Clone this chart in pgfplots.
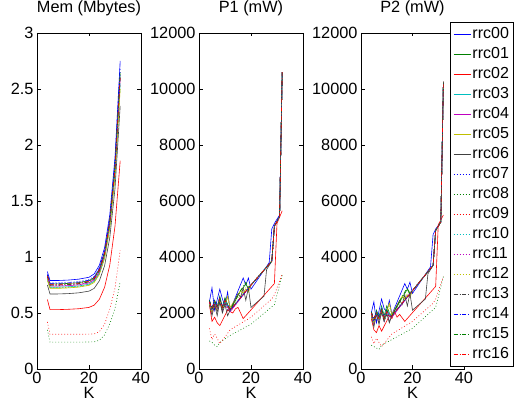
\documentclass[border=0pt]{standalone}
\usepackage{pgfplots}
\pgfplotsset{compat=1.18}
\usepackage{fontspec}
\setmainfont{Liberation Sans}

\definecolor{mb}{RGB}{0,0,255}
\definecolor{mg}{RGB}{0,128,0}
\definecolor{mr}{RGB}{255,0,0}
\definecolor{mc}{RGB}{0,191,191}
\definecolor{mm}{RGB}{191,0,191}
\definecolor{my}{RGB}{191,191,0}
\definecolor{mk}{RGB}{64,64,64}

\tikzset{
  dots/.style={dash pattern=on 0.8pt off 2.2pt},
  dashdot/.style={dash pattern=on 4pt off 2pt on 0.8pt off 2pt},
}

\pgfplotscreateplotcyclelist{rrc}{
  {mb,solid},{mg,solid},{mr,solid},{mc,solid},{mm,solid},{my,solid},{mk,solid},
  {mb,dots},{mg,dots},{mr,dots},{mc,dots},{mm,dots},{my,dots},
  {mk,dashdot},{mb,dashdot},{mg,dashdot},{mr,dashdot}}

\pgfplotsset{
  panel/.style={
    scale only axis, width=104pt, height=336pt,
    anchor=south west,
    xmin=0, xmax=40, xtick={0,20,40},
    tick pos=both, tick align=inside, major tick length=3.5pt,
    axis line style={line width=0.8pt}, every tick/.style={line width=0.8pt, black},
    cycle list name=rrc,
    every axis plot/.append style={line width=0.6pt, no markers},
    font=\fontsize{16.3}{18}\selectfont,
    /pgf/number format/assume math mode=true,
    /pgf/number format/1000 sep={},
    scaled y ticks=false,
    xlabel={K},
    xlabel style={at={(0.5,0)}, anchor=base, yshift=-30pt},
    title style={at={(0.5,1)}, anchor=base, yshift=14.5pt},
  },
}

\begin{document}
\begin{tikzpicture}
\path[use as bounding box] (0,0) rectangle (523pt,404pt);

% ---- memory ----
\begin{axis}[panel, at={(37pt,35pt)}, title={Mem (Mbytes)},
  ymin=0, ymax=3, ytick={0,0.5,1,1.5,2,2.5,3}]
\addplot coordinates {(4,0.87)(5,0.79)(8,0.79)(12,0.794)(16,0.802)(20,0.819)(22,0.849)(24,0.927)(26,1.084)(28,1.378)(30,1.888)(32,2.75)};
\addplot coordinates {(4,0.84)(5,0.76)(8,0.76)(12,0.764)(16,0.771)(20,0.788)(22,0.817)(24,0.892)(26,1.044)(28,1.327)(30,1.818)(32,2.65)};
\addplot coordinates {(4,0.62)(5,0.53)(8,0.53)(12,0.533)(16,0.538)(20,0.55)(22,0.57)(24,0.623)(26,0.73)(28,0.929)(30,1.275)(32,1.86)};
\addplot coordinates {(4,0.80)(5,0.73)(8,0.73)(12,0.734)(16,0.741)(20,0.757)(22,0.785)(24,0.857)(26,1.003)(28,1.276)(30,1.749)(32,2.55)};
\addplot coordinates {(4,0.82)(5,0.74)(8,0.74)(12,0.744)(16,0.751)(20,0.768)(22,0.796)(24,0.87)(26,1.019)(28,1.298)(30,1.782)(32,2.60)};
\addplot coordinates {(4,0.79)(5,0.72)(8,0.72)(12,0.724)(16,0.731)(20,0.747)(22,0.773)(24,0.845)(26,0.987)(28,1.254)(30,1.717)(32,2.50)};
\addplot coordinates {(4,0.75)(5,0.67)(8,0.67)(12,0.673)(16,0.68)(20,0.695)(22,0.72)(24,0.788)(26,0.922)(28,1.174)(30,1.611)(32,2.35)};
\addplot coordinates {(4,0.85)(5,0.77)(8,0.77)(12,0.774)(16,0.782)(20,0.799)(22,0.828)(24,0.905)(26,1.06)(28,1.349)(30,1.851)(32,2.70)};
\addplot coordinates {(4,0.35)(5,0.24)(8,0.24)(12,0.24)(16,0.24)(20,0.241)(22,0.243)(24,0.256)(26,0.305)(28,0.402)(30,0.537)(32,0.78)};
\addplot coordinates {(4,0.42)(5,0.31)(8,0.31)(12,0.31)(16,0.31)(20,0.311)(22,0.314)(24,0.333)(26,0.40)(28,0.535)(30,0.723)(32,1.06)};
\addplot coordinates {(4,0.80)(5,0.728)(8,0.728)(12,0.732)(16,0.739)(20,0.755)(22,0.783)(24,0.856)(26,1.001)(28,1.275)(30,1.748)(32,2.55)};
\addplot coordinates {(4,0.82)(5,0.745)(8,0.745)(12,0.749)(16,0.756)(20,0.773)(22,0.801)(24,0.875)(26,1.023)(28,1.302)(30,1.784)(32,2.60)};
\addplot coordinates {(4,0.80)(5,0.725)(8,0.725)(12,0.729)(16,0.736)(20,0.752)(22,0.779)(24,0.851)(26,0.994)(28,1.264)(30,1.73)(32,2.52)};
\addplot coordinates {(4,0.83)(5,0.75)(8,0.75)(12,0.754)(16,0.761)(20,0.778)(22,0.806)(24,0.88)(26,1.028)(28,1.305)(30,1.786)(32,2.60)};
\addplot coordinates {(4,0.84)(5,0.765)(8,0.765)(12,0.769)(16,0.776)(20,0.793)(22,0.822)(24,0.898)(26,1.049)(28,1.334)(30,1.826)(32,2.66)};
\addplot coordinates {(4,0.83)(5,0.75)(8,0.75)(12,0.754)(16,0.761)(20,0.778)(22,0.807)(24,0.882)(26,1.034)(28,1.317)(30,1.808)(32,2.64)};
\addplot coordinates {(4,0.83)(5,0.755)(8,0.755)(12,0.759)(16,0.766)(20,0.783)(22,0.81)(24,0.884)(26,1.032)(28,1.309)(30,1.788)(32,2.60)};
\end{axis}

% ---- P1 ----
\begin{axis}[panel, at={(199pt,35pt)}, title={P1 (mW)},
  ymin=0, ymax=12000, ytick={0,2000,4000,6000,8000,10000,12000}]
\addplot coordinates {(4,2400)(5,2900)(6,2100)(8,2850)(9,2500)(10,2250)(11,2750)(12,2100)(17,3250)(18,3000)(19,3250)(20,2850)(27,3800)(28,5000)(29,5200)(31,5500)(32,10600)};
\addplot coordinates {(4,2450)(5,2100)(6,2450)(7,2200)(8,2600)(9,2200)(10,2550)(11,2300)(12,2100)(16,2800)(17,2900)(18,3050)(19,2850)(20,3000)(28,3850)(29,5100)(31,5450)(32,10600)};
\addplot coordinates {(4,2300)(5,1700)(6,1850)(7,1650)(8,1550)(11,2100)(12,2050)(13,2000)(14,2150)(15,2200)(17,1800)(29,3050)(30,5200)(32,5650)};
\addplot coordinates {(4,2350)(5,2050)(6,2400)(7,2150)(8,2500)(9,2150)(10,2450)(11,2250)(12,2100)(20,3000)(28,3850)(29,5100)(31,5450)(32,10600)};
\addplot coordinates {(4,2400)(5,2000)(6,2350)(7,2100)(8,2450)(9,2100)(10,2400)(11,2200)(12,2050)(20,3000)(28,3850)(29,5100)(31,5450)(32,10600)};
\addplot coordinates {(4,2300)(5,2000)(6,2250)(7,2100)(8,2400)(9,2150)(10,2300)(11,2600)(12,2200)(16,2800)(17,2700)(18,2850)(19,2750)(20,3000)(28,3850)(29,5100)(31,5450)(32,10600)};
\addplot coordinates {(4,2300)(5,1900)(6,2300)(7,1900)(8,2400)(9,2000)(10,2300)(11,1900)(12,2100)(15,2700)(16,2550)(17,2900)(18,2450)(19,2900)(20,2200)(25,2600)(26,3550)(28,3850)(29,5100)(31,5450)(32,10600)};
\addplot coordinates {(4,2350)(5,2100)(6,2400)(7,2150)(8,2500)(9,2200)(10,2450)(11,2250)(12,2100)(20,3000)(28,3850)(29,5100)(31,5450)(32,10600)};
\addplot coordinates {(4,1000)(5,950)(6,850)(7,800)(8,950)(12,1200)(20,1600)(29,2300)(32,3350)};
\addplot coordinates {(4,1450)(5,1050)(6,1250)(7,1100)(8,900)(12,1400)(20,1850)(28,2500)(29,2650)(32,3400)};
\addplot coordinates {(4,2400)(5,2050)(6,2350)(7,2150)(8,2450)(9,2150)(10,2400)(11,2200)(12,2100)(20,3000)(28,3850)(29,5100)(31,5450)(32,10600)};
\addplot coordinates {(4,2350)(5,2000)(6,2300)(7,2100)(8,2400)(9,2100)(10,2350)(11,2150)(12,2050)(20,3000)(28,3850)(29,5100)(31,5450)(32,10600)};
\addplot coordinates {(4,2300)(5,2050)(6,2300)(7,2100)(8,2450)(9,2150)(10,2350)(11,2500)(12,2150)(17,2750)(18,2900)(20,3000)(28,3850)(29,5100)(31,5450)(32,10600)};
\addplot coordinates {(4,2400)(5,2150)(6,2300)(7,2050)(8,2400)(9,2100)(10,2350)(11,2100)(12,2100)(20,3000)(28,3850)(29,5100)(31,5450)(32,10600)};
\addplot coordinates {(4,2450)(5,2200)(6,2450)(7,2250)(8,2550)(9,2250)(10,2500)(11,2300)(12,2100)(20,3000)(28,3850)(29,5100)(31,5450)(32,10600)};
\addplot coordinates {(4,2450)(5,2150)(6,2450)(7,2200)(8,2550)(9,2200)(10,2500)(11,2300)(12,2100)(16,2800)(17,2950)(18,3100)(19,2900)(20,3000)(28,3850)(29,5100)(31,5450)(32,10600)};
\addplot coordinates {(4,2400)(5,2150)(6,2400)(7,2200)(8,2500)(9,2200)(10,2450)(11,2250)(12,2100)(20,3000)(28,3850)(29,5100)(31,5450)(32,10600)};
\end{axis}

% ---- P2 ----
\begin{axis}[panel, at={(361pt,35pt)}, width=103pt, title={P2 (mW)},
  ymin=0, ymax=12000, ytick={0,2000,4000,6000,8000,10000,12000},
  legend cell align=left,
  legend style={at={(0.864,1.033)}, anchor=north west, draw=black, fill=white,
    line width=0.8pt, font=\fontsize{16}{18}\selectfont, row sep=0pt,
    nodes={text height=12pt, text depth=4pt, inner ysep=2pt, inner xsep=1.5pt}},
  legend image code/.code={\draw[#1, line width=0.6pt] (0pt,0pt) -- (17pt,0pt);}]
\addplot coordinates {(4,2000)(5,2400)(6,1650)(8,2500)(9,2150)(10,2050)(11,2450)(12,1950)(17,3050)(18,2850)(19,3100)(20,2700)(27,3650)(28,4800)(29,5000)(31,5250)(32,10250)};
\addplot coordinates {(4,2000)(5,1700)(6,2100)(7,1850)(8,2250)(9,1900)(10,2250)(11,2000)(12,1900)(16,2550)(17,2700)(18,2850)(19,2650)(20,2800)(28,3700)(29,4950)(31,5250)(32,10250)};
\addplot coordinates {(4,1800)(5,1400)(6,1300)(7,1550)(8,1350)(11,1900)(12,1800)(13,2050)(14,1850)(15,1950)(17,1700)(29,2950)(30,5150)(32,5500)};
\addplot coordinates {(4,1950)(5,1650)(6,2050)(7,1800)(8,2200)(9,1850)(10,2150)(11,1950)(12,1900)(20,2800)(28,3700)(29,4950)(31,5250)(32,10250)};
\addplot coordinates {(4,2000)(5,1600)(6,2000)(7,1750)(8,2150)(9,1800)(10,2100)(11,1900)(12,1850)(20,2800)(28,3700)(29,4950)(31,5250)(32,10250)};
\addplot coordinates {(4,1900)(5,1600)(6,1950)(7,1750)(8,2100)(9,1850)(10,2050)(11,2350)(12,1950)(16,2600)(17,2500)(18,2650)(19,2550)(20,2800)(28,3700)(29,4950)(31,5250)(32,10250)};
\addplot coordinates {(4,1900)(5,1500)(6,1950)(7,1600)(8,2050)(9,1700)(10,2000)(11,1650)(12,1900)(15,2450)(16,2300)(17,2650)(18,2250)(19,2700)(20,2100)(25,2500)(26,3400)(28,3700)(29,4950)(31,5250)(32,10250)};
\addplot coordinates {(4,1950)(5,1700)(6,2000)(7,1750)(8,2100)(9,1800)(10,2050)(11,1850)(12,1900)(20,2800)(28,3700)(29,4950)(31,5250)(32,10250)};
\addplot coordinates {(4,850)(5,800)(6,750)(7,700)(8,850)(12,1050)(20,1450)(29,2200)(32,3300)};
\addplot coordinates {(4,1150)(5,900)(6,1100)(7,950)(8,800)(12,1250)(20,1700)(28,2350)(29,2500)(32,3300)};
\addplot coordinates {(4,2000)(5,1650)(6,1950)(7,1750)(8,2050)(9,1750)(10,2000)(11,1800)(12,1900)(20,2800)(28,3700)(29,4950)(31,5250)(32,10250)};
\addplot coordinates {(4,1950)(5,1600)(6,1900)(7,1700)(8,2000)(9,1700)(10,1950)(11,1750)(12,1850)(20,2800)(28,3700)(29,4950)(31,5250)(32,10250)};
\addplot coordinates {(4,1900)(5,1650)(6,1900)(7,1700)(8,2050)(9,1750)(10,1950)(11,2250)(12,1900)(17,2550)(18,2700)(20,2800)(28,3700)(29,4950)(31,5250)(32,10250)};
\addplot coordinates {(4,2000)(5,1750)(6,1900)(7,1650)(8,2000)(9,1700)(10,1950)(11,1700)(12,1900)(20,2800)(28,3700)(29,4950)(31,5250)(32,10250)};
\addplot coordinates {(4,2050)(5,1800)(6,2050)(7,1850)(8,2150)(9,1850)(10,2100)(11,1900)(12,1900)(20,2800)(28,3700)(29,4950)(31,5250)(32,10250)};
\addplot coordinates {(4,2050)(5,1750)(6,2050)(7,1800)(8,2150)(9,1800)(10,2100)(11,1900)(12,1900)(16,2600)(17,2750)(18,2900)(19,2700)(20,2800)(28,3700)(29,4950)(31,5250)(32,10250)};
\addplot coordinates {(4,2000)(5,1750)(6,2000)(7,1800)(8,2100)(9,1800)(10,2050)(11,1850)(12,1900)(20,2800)(28,3700)(29,4950)(31,5250)(32,10250)};
\legend{rrc00,rrc01,rrc02,rrc03,rrc04,rrc05,rrc06,rrc07,rrc08,rrc09,rrc10,rrc11,rrc12,rrc13,rrc14,rrc15,rrc16}
\end{axis}
\end{tikzpicture}
\end{document}
